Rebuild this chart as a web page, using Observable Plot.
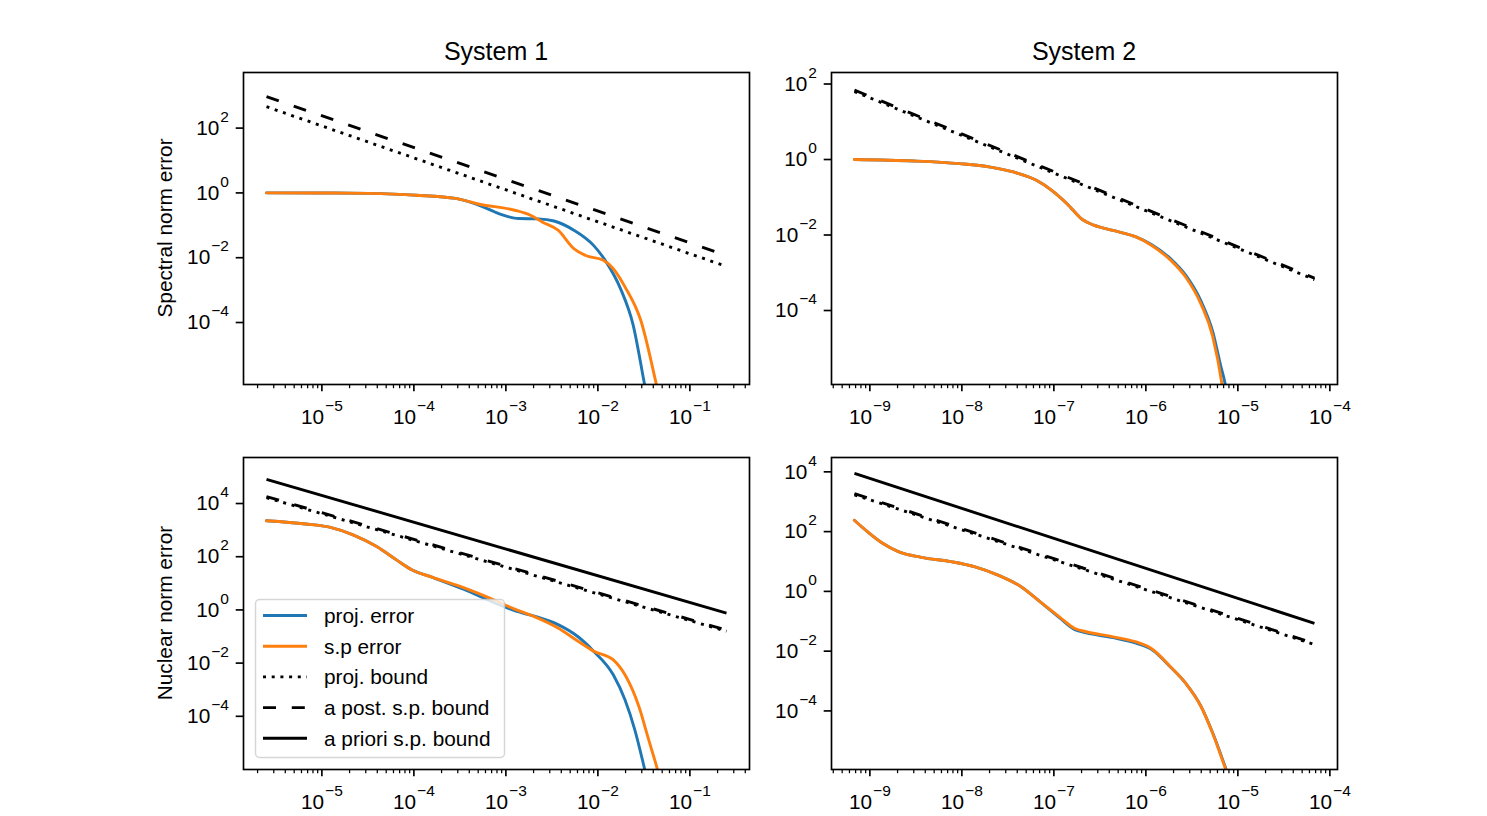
<!DOCTYPE html>
<html><head><meta charset="utf-8">
<script src="https://cdn.jsdelivr.net/npm/d3@7"></script>
<script src="https://cdn.jsdelivr.net/npm/@observablehq/plot@0.6"></script>
<style>
html,body{margin:0;padding:0;background:#fff;}
#fig{position:relative;width:1487px;height:816px;background:#fff;overflow:hidden;font-family:'Liberation Sans',Arial,sans-serif;}
#fig > svg{position:absolute;}
</style></head><body><div id="fig"></div>
<script>
// ---------- data ----------
const panelTitles = ["System 1", "System 2"];
const rowLabels = ["Spectral norm error", "Nuclear norm error"];
const seriesNames = ["proj. error", "s.p error", "proj. bound", "a post. s.p. bound", "a priori s.p. bound"];

const xMajorsSys1 = [1e-5, 1e-4, 1e-3, 1e-2, 1e-1];
const xMajorsSys2 = [1e-9, 1e-8, 1e-7, 1e-6, 1e-5, 1e-4];
const yMajorsSpectral = [1e2, 1e0, 1e-2, 1e-4];
const yMajorsNuclear = [1e4, 1e2, 1e0, 1e-2, 1e-4];

// System 1, spectral norm
const s1SpecProjErr = [[2.5e-6,1.0],[1.0e-5,0.995],[3.16e-5,0.966],[1.06e-4,0.85],[2.84e-4,0.676],[5.65e-4,0.372],[7.6e-4,0.257],[1.08e-3,0.182],[1.37e-3,0.162],[2.25e-3,0.158],[3.34e-3,0.136],[5.48e-3,0.0708],[8.97e-3,0.024],[1.2e-2,8.3e-3],[1.79e-2,1.0e-3],[2.4e-2,9.1e-5],[3.23e-2,1.15e-6],[3.39e-2,5.6e-7]];
const s1SpecSpErr = [[2.5e-6,1.0],[1.0e-5,0.995],[3.16e-5,0.966],[1.06e-4,0.85],[2.84e-4,0.676],[5.13e-4,0.447],[1.245e-3,0.292],[1.85e-3,0.204],[2.48e-3,0.127],[3.69e-3,0.0708],[5.48e-3,0.019],[7.36e-3,0.0117],[1.146e-2,8.3e-3],[1.47e-2,4.57e-3],[1.97e-2,1.26e-3],[2.93e-2,1.15e-4],[4.35e-2,1.15e-6],[4.57e-2,6.3e-7]];
const s1SpecProjBound = [[2.5e-6,457],[0.25,5.37e-3]];
const s1SpecPostBound = [[2.5e-6,933],[0.25,1.17e-2]];

// System 2, spectral norm
const s2SpecProjErr = [[6.8e-10,1.0],[3.0e-9,0.912],[9.46e-9,0.776],[2.04e-8,0.631],[3.63e-8,0.468],[6.46e-8,0.282],[9.48e-8,0.153],[1.39e-7,0.0676],[2.04e-7,0.0257],[2.72e-7,0.0182],[4.4e-7,0.0132],[7.82e-7,8.9e-3],[1.148e-6,5.6e-3],[1.86e-6,2.34e-3],[2.72e-6,8.5e-4],[3.99e-6,1.74e-4],[5.32e-6,2.8e-5],[6.5e-6,3.5e-6],[7.35e-6,1.0e-6],[7.6e-6,6e-7]];
const s2SpecSpErr = [[6.8e-10,1.0],[3.0e-9,0.912],[9.46e-9,0.776],[2.04e-8,0.631],[3.63e-8,0.468],[6.46e-8,0.282],[9.48e-8,0.153],[1.39e-7,0.0676],[2.04e-7,0.0257],[2.72e-7,0.0182],[4.4e-7,0.0132],[7.82e-7,8.9e-3],[1.148e-6,5.37e-3],[1.86e-6,2.14e-3],[2.72e-6,7.6e-4],[3.99e-6,1.45e-4],[5.32e-6,2.1e-5],[6.76e-6,1.0e-6],[6.9e-6,7e-7]];
const s2SpecProjBound = [[6.8e-10,63.1],[6.8e-5,6.6e-4]];
const s2SpecPostBound = [[6.8e-10,69.2],[6.8e-5,7.2e-4]];

// System 1, nuclear norm
const s1NucProjErr = [[2.5e-6,2240],[6.64e-6,1700],[1.21e-5,1290],[2.18e-5,661],[3.94e-5,240],[6.46e-5,75.9],[9.6e-5,31.6],[1.57e-4,17.0],[3.46e-4,6.0],[7.62e-4,1.82],[1.245e-3,0.93],[2.04e-3,0.58],[3.69e-3,0.28],[6.04e-3,0.1],[8.97e-3,0.0282],[1.47e-2,3.63e-3],[1.97e-2,4.17e-4],[2.52e-2,3.09e-5],[3.23e-2,1.0e-6],[3.39e-2,5e-7]];
const s1NucSpErr = [[2.5e-6,2240],[6.64e-6,1700],[1.21e-5,1290],[2.18e-5,661],[3.94e-5,240],[6.46e-5,75.9],[9.6e-5,31.6],[1.57e-4,17.0],[3.46e-4,6.9],[7.62e-4,2.29],[1.245e-3,1.07],[2.04e-3,0.56],[3.69e-3,0.209],[6.04e-3,0.0676],[8.97e-3,0.0282],[1.47e-2,0.0132],[1.97e-2,3.63e-3],[2.79e-2,2.34e-4],[3.57e-2,1.29e-5],[4.44e-2,1.0e-6],[4.68e-2,5e-7]];
const s1NucProjBound = [[2.5e-6,1.66e4],[0.25,0.158]];
const s1NucPostBound = [[2.5e-6,1.82e4],[0.25,0.174]];
const s1NucPrioriBound = [[2.5e-6,8.13e4],[0.25,0.75]];

// System 2, nuclear norm
const s2NucProjErr = [[6.78e-10,240],[9.48e-10,97.7],[1.39e-9,39.8],[2.04e-9,21.4],[3.63e-9,13.8],[7.83e-9,9.77],[1.39e-8,6.61],[2.47e-8,3.51],[4.4e-8,1.43],[7.1e-8,0.447],[1.148e-7,0.132],[1.69e-7,0.0525],[2.25e-7,0.041],[4.4e-7,0.0282],[7.82e-7,0.0186],[1.148e-6,0.0115],[1.85e-6,2.95e-3],[2.72e-6,8.3e-4],[3.99e-6,1.4e-4],[5.32e-6,1.85e-5],[7.5e-6,1.05e-6],[8.2e-6,4.9e-7]];
const s2NucSpErr = [[6.78e-10,240],[9.48e-10,97.7],[1.39e-9,39.8],[2.04e-9,21.4],[3.63e-9,13.8],[7.83e-9,9.77],[1.39e-8,6.61],[2.47e-8,3.51],[4.4e-8,1.43],[7.1e-8,0.447],[1.148e-7,0.141],[1.69e-7,0.0575],[2.25e-7,0.0447],[4.4e-7,0.0302],[7.82e-7,0.0204],[1.148e-6,0.0123],[1.85e-6,3.02e-3],[2.72e-6,8.3e-4],[3.99e-6,1.38e-4],[5.32e-6,1.78e-5],[7.43e-6,1.05e-6],[8.13e-6,4.9e-7]];
const s2NucProjBound = [[6.8e-10,1700],[6.8e-5,0.0166]];
const s2NucPostBound = [[6.8e-10,1860],[6.8e-5,0.0182]];
const s2NucPrioriBound = [[6.8e-10,8900],[6.8e-5,0.085]];

// ---------- styling ----------
const FONT = "'Liberation Sans', Arial, sans-serif";
const FS = 20.8;
const BLUE = "#1f77b4", ORANGE = "#ff7f0e";
const LW = 2.9;
const DOT = "3,5.7", DASH = "13,15.8";
const styles = {
  projErr: {stroke: BLUE},
  spErr: {stroke: ORANGE},
  projBound: {stroke: "black", strokeDasharray: DOT, strokeLinecap: "butt"},
  postBound: {stroke: "black", strokeDasharray: DASH, strokeLinecap: "butt"},
  prioriBound: {stroke: "black", strokeLinecap: "butt"}
};
const FW = 506, FH = 312, ML = 75, MR = 28, MT = 10, MB = 55;

function minorTicks(majors, domain) {
  const out = [];
  const e0 = Math.floor(Math.log10(domain[0])), e1 = Math.ceil(Math.log10(domain[1]));
  for (let e = e0; e <= e1; e++) for (let k = 2; k <= 9; k++) {
    const v = k * Math.pow(10, e);
    if (v >= domain[0] && v <= domain[1]) out.push(v);
  }
  return out;
}
const fmt = d => "10^" + Math.round(Math.log10(d));

function superscript(svg) {
  svg.querySelectorAll("text").forEach(t => {
    const m = /^10\^(-?\d+)$/.exec(t.textContent);
    if (!m) return;
    t.textContent = "10";
    const ts = document.createElementNS("http://www.w3.org/2000/svg", "tspan");
    ts.setAttribute("dy", "-13");
    ts.setAttribute("dx", "1");
    ts.setAttribute("font-size", "15.5");
    ts.textContent = m[1].replace("-", "\u2212");
    t.appendChild(ts);
  });
}

function panel({left, top, xDomain, yDomain, xMajors, yMajors, series, curve}) {
  const marks = [];
  for (const [key, data] of series) {
    marks.push(Plot.line(data, {x: d => d[0], y: d => d[1], strokeWidth: LW, clip: true, curve, ...styles[key]}));
  }
  marks.push(Plot.frame({stroke: "black", strokeWidth: 1.67}));
  marks.push(Plot.axisX({ticks: minorTicks(xMajors, xDomain), tickSize: 4.2, strokeWidth: 1.25, fill: "none", label: null}));
  marks.push(Plot.axisX({ticks: xMajors, tickSize: 7.3, tickPadding: 17, strokeWidth: 1.67, tickFormat: fmt, fontSize: FS, label: null}));
  marks.push(Plot.axisY({ticks: yMajors, tickSize: 7.3, tickPadding: 7.3, strokeWidth: 1.67, tickFormat: fmt, fontSize: FS, label: null}));
  const svg = Plot.plot({
    width: ML + FW + MR, height: MT + FH + MB,
    marginLeft: ML, marginRight: MR, marginTop: MT, marginBottom: MB,
    x: {type: "log", domain: xDomain, label: null},
    y: {type: "log", domain: yDomain, label: null},
    style: {background: "transparent", overflow: "visible", fontFamily: FONT, fontSize: FS + "px", color: "black"},
    marks
  });
  superscript(svg);
  svg.style.left = (left - ML) + "px";
  svg.style.top = (top - MT) + "px";
  svg.style.maxWidth = "none";
  document.getElementById("fig").appendChild(svg);
}

const dom1 = [Math.pow(10, -5.852), Math.pow(10, -0.352)];
const dom2 = [Math.pow(10, -9.417), Math.pow(10, -3.917)];

panel({left: 243, top: 72, xDomain: dom1, yDomain: [Math.pow(10, -5.913), Math.pow(10, 3.716)],
  xMajors: xMajorsSys1, yMajors: yMajorsSpectral, curve: "monotone-x",
  series: [["projErr", s1SpecProjErr], ["spErr", s1SpecSpErr], ["projBound", s1SpecProjBound], ["postBound", s1SpecPostBound]]});
panel({left: 831, top: 72, xDomain: dom2, yDomain: [Math.pow(10, -5.96), Math.pow(10, 2.305)],
  xMajors: xMajorsSys2, yMajors: yMajorsSpectral, curve: "monotone-x",
  series: [["projErr", s2SpecProjErr], ["spErr", s2SpecSpErr], ["projBound", s2SpecProjBound], ["postBound", s2SpecPostBound]]});
panel({left: 243, top: 457, xDomain: dom1, yDomain: [Math.pow(10, -6.0), Math.pow(10, 5.73)],
  xMajors: xMajorsSys1, yMajors: yMajorsNuclear, curve: "monotone-x",
  series: [["projErr", s1NucProjErr], ["spErr", s1NucSpErr], ["projBound", s1NucProjBound], ["postBound", s1NucPostBound], ["prioriBound", s1NucPrioriBound]]});
panel({left: 831, top: 457, xDomain: dom2, yDomain: [Math.pow(10, -5.96), Math.pow(10, 4.48)],
  xMajors: xMajorsSys2, yMajors: yMajorsNuclear, curve: "monotone-x",
  series: [["projErr", s2NucProjErr], ["spErr", s2NucSpErr], ["projBound", s2NucProjBound], ["postBound", s2NucPostBound], ["prioriBound", s2NucPrioriBound]]});

// ---------- titles, row labels, legend ----------
const NS = "http://www.w3.org/2000/svg";
const ov = document.createElementNS(NS, "svg");
ov.setAttribute("width", 1487); ov.setAttribute("height", 816);
ov.style.left = "0px"; ov.style.top = "0px";
ov.setAttribute("font-family", FONT);
let h = "";
h += `<text x="${243 + FW / 2}" y="60" font-size="25" text-anchor="middle">${panelTitles[0]}</text>`;
h += `<text x="${831 + FW / 2}" y="60" font-size="25" text-anchor="middle">${panelTitles[1]}</text>`;
h += `<text transform="translate(172,${72 + FH / 2}) rotate(-90)" font-size="${FS}" text-anchor="middle">${rowLabels[0]}</text>`;
h += `<text transform="translate(172,${457 + FH / 2}) rotate(-90)" font-size="${FS}" text-anchor="middle">${rowLabels[1]}</text>`;
h += `<rect x="255.5" y="599.5" width="249" height="158" rx="4" fill="white" fill-opacity="0.8" stroke="#cccccc" stroke-opacity="0.8" stroke-width="1.5"/>`;
const keys = ["projErr", "spErr", "projBound", "postBound", "prioriBound"];
keys.forEach((k, i) => {
  const y = 615.5 + i * 30.7;
  const s = styles[k];
  h += `<line x1="263" x2="307" y1="${y}" y2="${y}" stroke="${s.stroke}" stroke-width="${LW}" ${s.strokeDasharray ? `stroke-dasharray="${s.strokeDasharray}"` : ""} stroke-linecap="butt"/>`;
  h += `<text x="324" y="${y + 7.3}" font-size="${FS}">${seriesNames[i]}</text>`;
});
ov.innerHTML = h;
document.getElementById("fig").appendChild(ov);
</script></body></html>
